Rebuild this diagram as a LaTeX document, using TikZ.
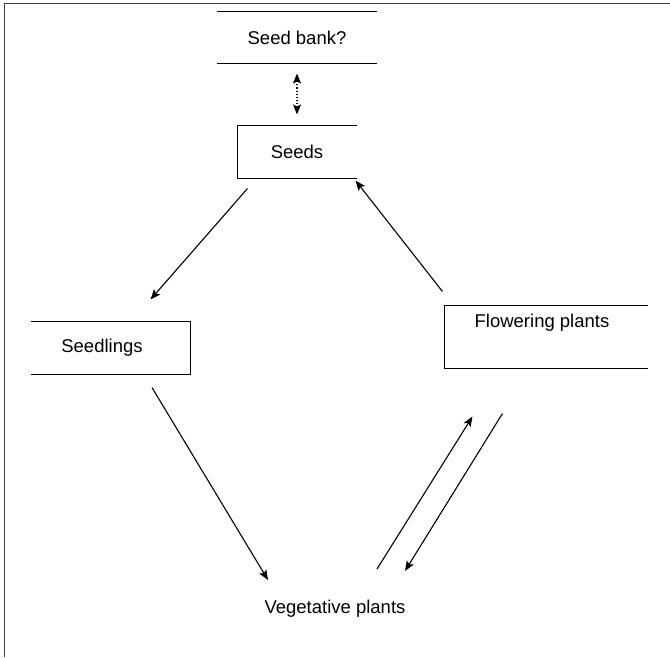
\documentclass[tikz,border=0pt]{standalone}
\usepackage{fontspec}
\setmainfont{Liberation Sans}
\usetikzlibrary{arrows.meta}
\begin{document}
\begin{tikzpicture}
    [x=1pt,y=-1pt,line width=1.1pt,
    stage/.style={rectangle,minimum width=158pt,minimum height=52pt,inner sep=0pt},
    every node/.style={font=\fontsize{18.5}{22}\selectfont},
    >={Stealth[length=10pt,width=8pt,inset=2pt]}]

    \useasboundingbox (0,0) rectangle (670,657);
    %\draw[help lines] (0,0) grid[step=50] (670,657);
    \draw[line width=1.3pt,black!75] (4.5,657) -- (4.5,3.5) -- (670,3.5);

    \node[stage,minimum height=51pt] (bank) at (297,37.5) {Seed bank?};
    \node[stage,minimum width=118pt] (seeds) at (297,152) {Seeds};
    \node[stage,label={[xshift=-9pt]center:Seedlings}] (seedlings) at (111,348) {};
    \node[stage,minimum width=202pt,minimum height=62pt,
          label={[anchor=center,xshift=-4pt,yshift=-17pt]north:Flowering plants}] (flowering) at (546,337) {};
    \node (vegetative) at (335,609) {Vegetative plants};

    \draw (bank.north west) -- (bank.north east) (bank.south west) -- (bank.south east);
    \draw (seeds.north east) -- (seeds.north west) -- (seeds.south west) -- (seeds.south east);
    \draw (seedlings.north west) -- (seedlings.north east) -- (seedlings.south east) -- (seedlings.south west);
    \draw (flowering.north east) -- (flowering.north west) -- (flowering.south west) -- (flowering.south east);

    \draw[<->,dotted] ([yshift=-10pt]bank.south) -- ([yshift=11pt]seeds.north);
    \draw[->] ([xshift=10pt,yshift=-10pt]seeds.south west) -- ([xshift=-40pt,yshift=22pt]seedlings.north east);
    \draw[->] ([xshift=-2pt,yshift=14pt]flowering.north west) -- ([xshift=-1pt,yshift=-2pt]seeds.south east);
    \draw[->] ([xshift=41pt,yshift=-13pt]seedlings.south) -- ([xshift=-67pt,yshift=29pt]vegetative.center);
    \draw[->] ([xshift=42pt,yshift=40pt]vegetative.center) -- ([xshift=28pt,yshift=-48pt]flowering.south west);
    \draw[->] ([xshift=58pt,yshift=-45pt]flowering.south west) -- ([xshift=70pt,yshift=38pt]vegetative.center);
\end{tikzpicture}
\end{document}
